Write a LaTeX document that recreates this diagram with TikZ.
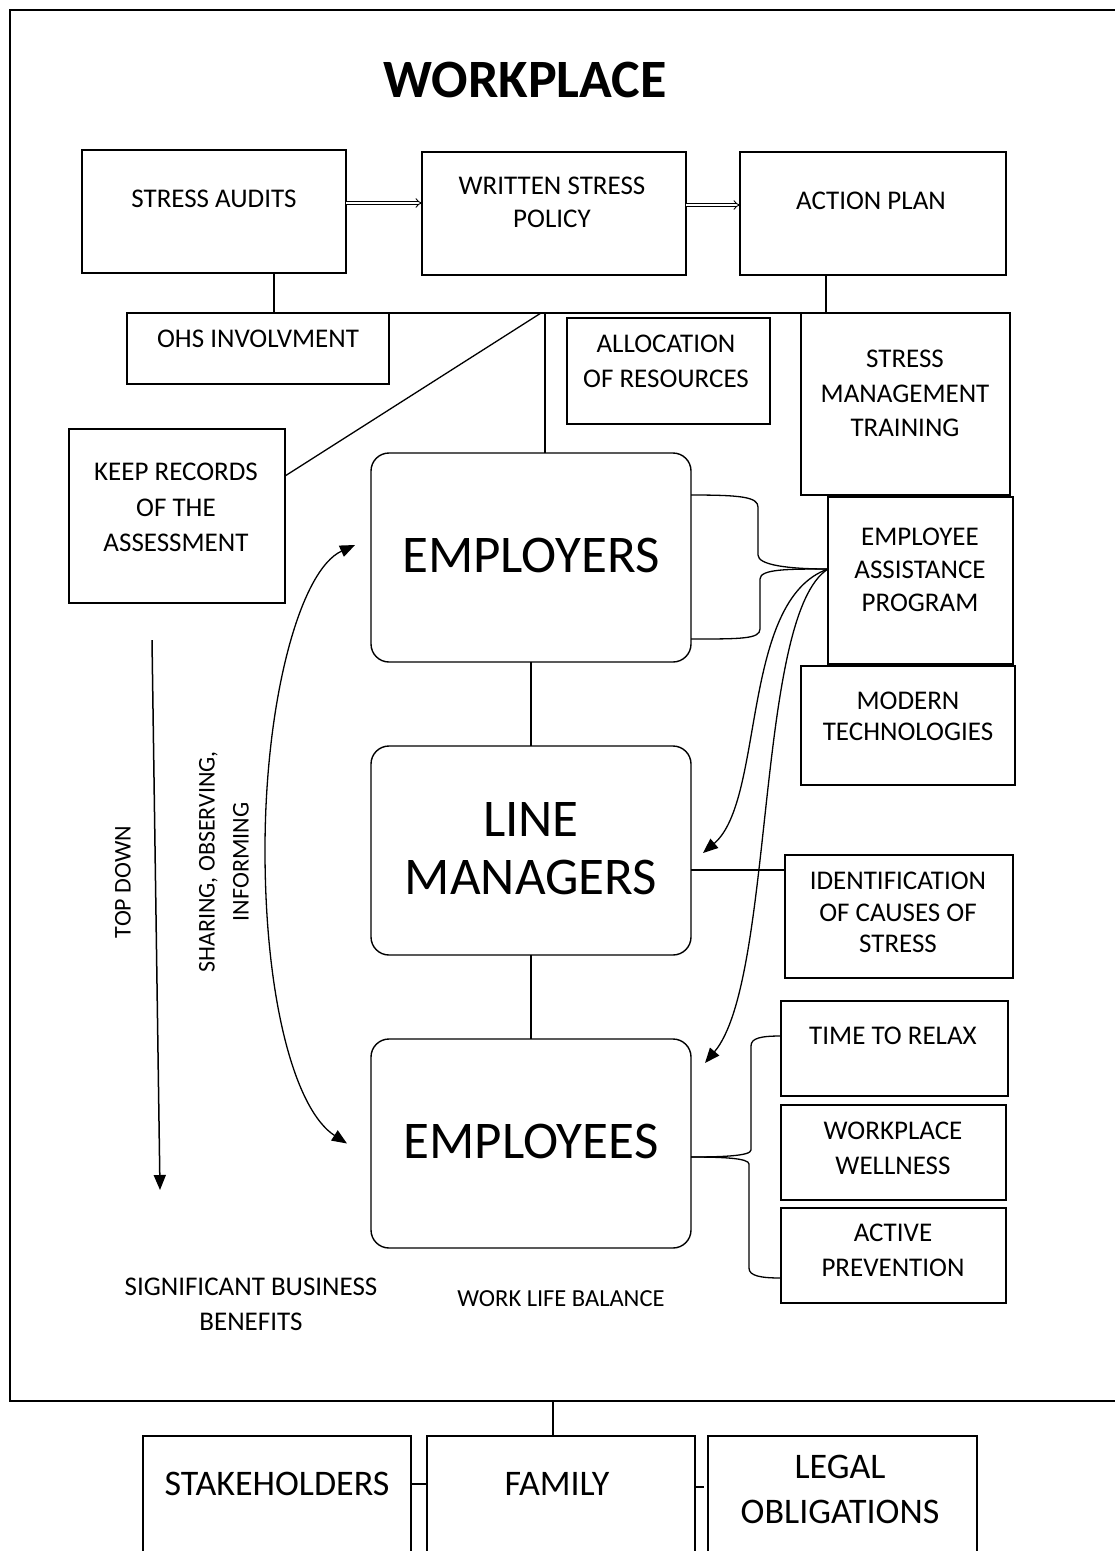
\documentclass[tikz,border=0pt]{standalone}
\usepackage{fontspec}
\setmainfont{Carlito}
\usetikzlibrary{arrows.meta}
\newcommand\mkbox[6][box]{\node[#1, anchor=north west, minimum width={(#5-#3)*1pt}, minimum height={(#6-#4)*1pt}] (#2) at (#3,#4) {};}
\begin{document}
\begin{tikzpicture}[x=1pt,y=-1pt,
 box/.style={draw, line width=1.4pt, inner sep=0pt, outer sep=0pt},
 rbox/.style={box, rounded corners=18pt},
 frm/.style={draw, line width=1.9pt, inner sep=0pt, outer sep=0pt},
 txt/.style={font=\fontsize{27}{34}\selectfont, align=center, inner sep=0pt},
 big/.style={font=\fontsize{53}{58}\selectfont, align=center, inner sep=0pt},
 mid/.style={font=\fontsize{36}{45}\selectfont, align=center, inner sep=0pt},
 lbl/.style={font=\fontsize{24}{34}\selectfont, align=center, inner sep=0pt},
 conn/.style={line width=1.3pt},
 dbl/.style={double, double distance=2.4pt, line width=0.9pt, -{Implies}},
 arr/.style={conn, -{Triangle[length=15pt,width=12pt]}},
 ]
\useasboundingbox (0,0) rectangle (1115,1551);
\clip (0,0) rectangle (1115,1551);
% frame
\mkbox[frm]{frame}{10}{10}{1130}{1401}
\node[font=\bfseries\fontsize{54}{60}\selectfont, inner sep=0pt] (title) at (525,80) {WORKPLACE};
% boxes
\mkbox{sa}{82}{150}{346}{273}
\mkbox{wsp}{422}{152}{686}{275}
\mkbox{ap}{740}{152}{1006}{275}
\mkbox{ohs}{127}{313}{389}{384}
\mkbox{alloc}{567}{318}{770}{424}
\mkbox{smt}{801}{313}{1010}{495}
\mkbox{kr}{69}{429}{285}{603}
\mkbox[rbox]{emp}{371}{453}{691}{662}
\mkbox[rbox]{lm}{371}{746}{691}{955}
\mkbox[rbox]{empl}{371}{1039}{691}{1248}
\mkbox{eap}{828}{497}{1013}{664}
\mkbox{mt}{801}{666}{1015}{785}
\mkbox{idc}{785}{855}{1013}{978}
\mkbox{ttr}{781}{1001}{1008}{1096}
\mkbox{ww}{781}{1105}{1006}{1200}
\mkbox{ap2}{781}{1208}{1006}{1303}
\mkbox{stk}{143}{1436}{411}{1600}
\mkbox{fam}{427}{1436}{695}{1600}
\mkbox{legal}{708}{1436}{977}{1600}
% texts
\node[txt] (tsa) at (214,199) {STRESS AUDITS};
\node[txt, font=\fontsize{27}{33}\selectfont] (twsp) at (552,202.5) {WRITTEN STRESS\\POLICY};
\node[txt] (tap) at (871,201) {ACTION PLAN};
\node[txt] (tohs) at (258,339) {OHS INVOLVMENT};
\node[txt, font=\fontsize{27}{35}\selectfont] (talloc) at (666,361.5) {ALLOCATION\\OF RESOURCES};
\node[txt, font=\fontsize{27}{34.5}\selectfont] (tsmt) at (905,393.5) {STRESS\\MANAGEMENT\\TRAINING};
\node[txt, font=\fontsize{27}{35.5}\selectfont] (tkr) at (176,507.5) {KEEP RECORDS\\OF THE\\ASSESSMENT};
\node[big] (temp) at (531,555) {EMPLOYERS};
\node[big] (tlm) at (531,849) {LINE\\MANAGERS};
\node[big] (templ) at (531,1141) {EMPLOYEES};
\node[txt, font=\fontsize{27}{33}\selectfont] (teap) at (920,570) {EMPLOYEE\\ASSISTANCE\\PROGRAM};
\node[txt, font=\fontsize{27}{31}\selectfont] (tmt) at (908,716.5) {MODERN\\TECHNOLOGIES};
\node[txt, font=\fontsize{27}{31.5}\selectfont] (tidc) at (898,912.5) {IDENTIFICATION\\OF CAUSES OF\\STRESS};
\node[txt] (tttr) at (893,1036) {TIME TO RELAX};
\node[txt, font=\fontsize{27}{35}\selectfont] (tww) at (893,1148.5) {WORKPLACE\\WELLNESS};
\node[txt, font=\fontsize{27}{35}\selectfont] (tap2) at (893,1250.5) {ACTIVE\\PREVENTION};
\node[txt, font=\fontsize{27}{35}\selectfont] (tsbb) at (251,1304.5) {SIGNIFICANT BUSINESS\\BENEFITS};
\node[lbl, font=\fontsize{24.5}{30}\selectfont] (twlb) at (561,1299) {WORK LIFE BALANCE};
\node[lbl, rotate=90] (ttd) at (123,882) {TOP DOWN};
\node[lbl, rotate=90] (tsoi) at (224,862) {SHARING, OBSERVING,\\INFORMING};
\node[mid] (tstk) at (277,1484) {STAKEHOLDERS};
\node[mid] (tfam) at (557,1484) {FAMILY};
\node[mid] (tlegal) at (840,1489.5) {LEGAL\\OBLIGATIONS};
% top connectors
\draw[dbl] ([yshift=8.5pt]sa.east) -- ([yshift=8.5pt]sa.east -| wsp.west);
\draw[dbl] ([yshift=8.5pt]wsp.east) -- ([yshift=8.5pt]wsp.east -| ap.west);
\draw[conn] ([xshift=60pt]sa.south) -- ([xshift=60pt]sa.south |- ohs.north);
\draw[conn] (ohs.north east) -- (smt.north west);
\draw[conn] ([xshift=-47pt]ap.south) -- ([xshift=-47pt]ap.south |- smt.north);
\draw[conn] ([xshift=14pt]emp.north) -- ([xshift=14pt]emp.north |- ohs.north);
\draw[conn] ([yshift=40pt]kr.east) -- ([xshift=10pt]emp.north |- ohs.north);
% central chain
\draw[conn] (emp.south) -- (lm.north);
\draw[conn] (lm.south) -- (empl.north);
\draw[conn] ([yshift=-19.5pt]lm.east) -- ([yshift=-19.5pt]lm.east -| idc.west);
% brace to EAP
\coordinate (tip) at ([yshift=11.5pt]eap.west);
\draw[conn] ([yshift=62.5pt]emp.east) .. controls +(50,0) and +(0,-10) .. ++(67,12) -- ++(0,48) .. controls +(0,10) and +(-40,0) .. (tip);
\draw[conn] (tip) .. controls +(-40,0) and +(0,-10) .. ++(-68,10) -- ++(0,50) .. controls +(0,10) and +(50,0) .. ([yshift=-81.5pt]emp.east);
% brace at employees
\draw[conn] ([yshift=12.5pt]ttr.west) .. controls +(-20,0) and +(0,-8) .. ++(-30,10) -- ++(0,104) .. controls +(0,6) and +(30,0) .. ([yshift=-13.5pt]empl.east);
\draw[conn] ([yshift=-13.5pt]empl.east) .. controls +(30,0) and +(0,-6) .. ++(58,7) -- ++(0,104) .. controls +(0,8) and +(-20,0) .. ([yshift=-22.5pt]ap2.west);
% curved arrows from EAP
\draw[arr] (tip) .. controls (740,600) and (765,800) .. ([xshift=12pt,yshift=-2.5pt]lm.east);
\draw[arr] (tip) .. controls (755,615) and (775,980) .. ([xshift=14pt,yshift=-24pt]empl.north east);
% left double arrow
\coordinate (la) at ([xshift=-16pt,yshift=12.5pt]emp.west);
\coordinate (lb) at ([xshift=-24pt]empl.west);
\draw[conn, {Triangle[length=15pt,width=12pt]}-{Triangle[length=15pt,width=12pt]}] (la) .. controls (300,570) and (265,700) .. (265,850) .. controls (265,1000) and (295,1110) .. (lb);
% top down arrow
\coordinate (td1) at (152,640);
\coordinate (td2) at (160,1190);
\draw[arr, line width=1.5pt] (td1) -- (td2);
% bottom
\draw[conn] ([xshift=-8pt]fam.north) -- ([xshift=-8pt]fam.north |- frame.south);
\draw[conn] ([yshift=34pt]stk.east) -- ([yshift=34pt]stk.east -| fam.west);
\draw[conn] ([yshift=31pt]fam.east) -- ++(9,0);
\end{tikzpicture}
\end{document}
